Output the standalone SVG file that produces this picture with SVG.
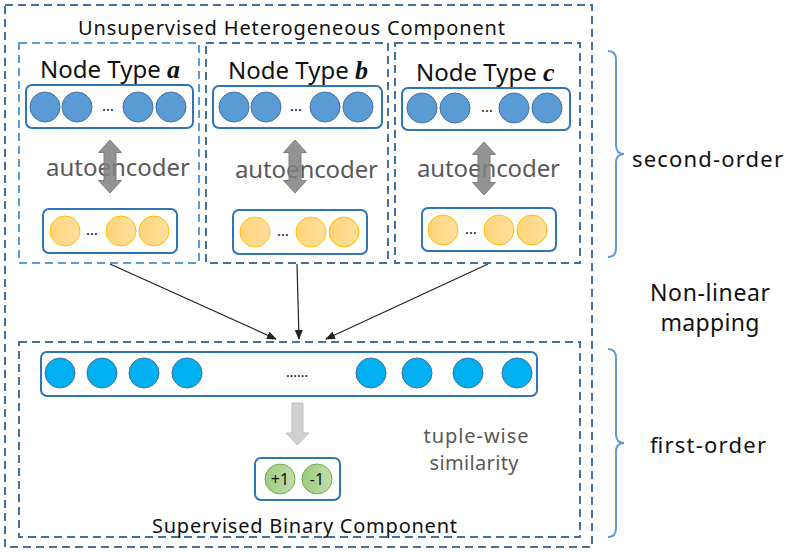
<svg xmlns="http://www.w3.org/2000/svg" width="791" height="553" viewBox="0 0 791 553">
<defs>
<style>
.dash{fill:none;stroke:#41719C;stroke-width:2;stroke-dasharray:8,5}
.dashl{fill:none;stroke:#5B9BD5;stroke-width:2;stroke-dasharray:8,5}
.rbox{fill:#fff;stroke:#2E75B6;stroke-width:2}
.bc{fill:#5B9BD5;stroke:#41719C;stroke-width:1}
.yc{fill:url(#yg);stroke:#FFC000;stroke-width:1}
.cc{fill:#00B0F0;stroke:#41719C;stroke-width:1}
.gc{fill:url(#gg);stroke:#70AD47;stroke-width:1}
.t{font-family:"Noto Sans","Open Sans",sans-serif;fill:#111}
.g{font-family:"Noto Sans","Open Sans",sans-serif;fill:#595959}
.it{font-family:"Liberation Serif",serif;font-style:italic;font-weight:bold}
.ae{fill:#808080;fill-opacity:0.85;stroke:#7F7F7F;stroke-width:1}
.br{fill:none;stroke:#5B9BD5;stroke-width:2}
.con{stroke:#222;stroke-width:1.2;fill:none;marker-end:url(#ah)}
</style>
<linearGradient id="yg" x1="0" y1="0" x2="1" y2="0"><stop offset="0" stop-color="#FFD47A"/><stop offset="1" stop-color="#FFDF9E"/></linearGradient>
<linearGradient id="gg" x1="0" y1="0" x2="1" y2="0"><stop offset="0" stop-color="#9DCB7F"/><stop offset="1" stop-color="#C1DEAD"/></linearGradient>
<marker id="ah" markerWidth="10" markerHeight="8" refX="9" refY="4" orient="auto" markerUnits="userSpaceOnUse"><path d="M0,0 L10,4 L0,8 Z" fill="#222"/></marker>
<path id="dbl" d="M0,-26.5 L11.5,-14 L6,-14 L6,14 L11.5,14 L0,26.5 L-11.5,14 L-6,14 L-6,-14 L-11.5,-14 Z"/>
</defs>
<rect width="791" height="553" fill="#fff"/>

<g id="outer">
<rect class="dash" x="5" y="5" width="587" height="542"/>
<text class="t" x="78" y="35" font-size="20" textLength="427">Unsupervised Heterogeneous Component</text>
</g>

<g id="typeA">
<rect class="dashl" x="19" y="43" width="180" height="220"/>
<text class="t" x="40" y="78" font-size="24">Node Type <tspan class="it" font-size="26">a</tspan></text>
<rect class="rbox" x="26" y="85" width="167" height="43" rx="6"/>
<circle class="bc" cx="45" cy="107" r="15"/><circle class="bc" cx="77" cy="107" r="15"/>
<text class="t" x="108" y="111" font-size="15" text-anchor="middle">…</text>
<circle class="bc" cx="138" cy="107" r="15"/><circle class="bc" cx="171" cy="107" r="15"/>
<text class="g" x="46" y="176" font-size="24" textLength="144">autoencoder</text>
<use href="#dbl" class="ae" x="110" y="166.5"/>
<rect class="rbox" x="43" y="209" width="134" height="44" rx="6"/>
<circle class="yc" cx="65" cy="231" r="15"/>
<text class="t" x="92" y="235" font-size="15" text-anchor="middle">…</text>
<circle class="yc" cx="121" cy="231" r="15"/><circle class="yc" cx="154" cy="231" r="15"/>
</g>

<g id="typeB">
<rect class="dash" x="206" y="43" width="182" height="220"/>
<text class="t" x="228" y="79" font-size="24">Node Type <tspan class="it" font-size="26">b</tspan></text>
<rect class="rbox" x="213" y="86" width="169" height="42" rx="6"/>
<circle class="bc" cx="234" cy="107" r="15"/><circle class="bc" cx="266" cy="107" r="15"/>
<text class="t" x="296" y="111" font-size="15" text-anchor="middle">…</text>
<circle class="bc" cx="325" cy="107" r="15"/><circle class="bc" cx="358" cy="107" r="15"/>
<text class="g" x="235" y="178" font-size="24" textLength="143">autoencoder</text>
<use href="#dbl" class="ae" x="295" y="166.5"/>
<rect class="rbox" x="233" y="210" width="134" height="44" rx="6"/>
<circle class="yc" cx="255" cy="232" r="15"/>
<text class="t" x="283" y="236" font-size="15" text-anchor="middle">…</text>
<circle class="yc" cx="311" cy="232" r="15"/><circle class="yc" cx="344" cy="232" r="15"/>
</g>

<g id="typeC">
<rect class="dash" x="395" y="43" width="185" height="220"/>
<text class="t" x="416" y="81" font-size="24">Node Type <tspan class="it" font-size="26">c</tspan></text>
<rect class="rbox" x="402" y="88" width="168" height="42" rx="6"/>
<circle class="bc" cx="422" cy="108" r="15"/><circle class="bc" cx="455" cy="108" r="15"/>
<text class="t" x="487" y="112" font-size="15" text-anchor="middle">…</text>
<circle class="bc" cx="514" cy="108" r="15"/><circle class="bc" cx="547" cy="108" r="15"/>
<text class="g" x="417" y="177" font-size="24" textLength="143">autoencoder</text>
<use href="#dbl" class="ae" x="484" y="168.5"/>
<rect class="rbox" x="422" y="208" width="134" height="43" rx="6"/>
<circle class="yc" cx="443" cy="230" r="15"/>
<text class="t" x="471" y="234" font-size="15" text-anchor="middle">…</text>
<circle class="yc" cx="499" cy="230" r="15"/><circle class="yc" cx="532" cy="230" r="15"/>
</g>

<g id="supervised">
<rect class="dash" x="19" y="342" width="561" height="195"/>
<rect class="rbox" x="41" y="352" width="496" height="44" rx="6"/>
<circle class="cc" cx="60" cy="373" r="15"/><circle class="cc" cx="102" cy="373" r="15"/>
<circle class="cc" cx="144" cy="373" r="15"/><circle class="cc" cx="187" cy="373" r="15"/>
<text class="t" x="297" y="377" font-size="14" text-anchor="middle">……</text>
<circle class="cc" cx="371" cy="373" r="15"/><circle class="cc" cx="417" cy="373" r="15"/>
<circle class="cc" cx="468" cy="373" r="15"/><circle class="cc" cx="517" cy="373" r="15"/>
<path d="M292,403 L303,403 L303,433 L309,433 L297.5,445 L286,433 L292,433 Z" fill="#D0D0D0" stroke="#BFBFBF" stroke-width="1"/>
<rect class="rbox" x="255" y="458" width="85" height="42" rx="6"/>
<circle class="gc" cx="280" cy="479" r="15"/><circle class="gc" cx="317" cy="479" r="15"/>
<text class="t" x="280" y="485" font-size="16" text-anchor="middle">+1</text>
<text class="t" x="317" y="485" font-size="16" text-anchor="middle">-1</text>
<text class="g" x="476" y="443" font-size="20" text-anchor="middle" textLength="105">tuple-wise</text>
<text class="g" x="474" y="470" font-size="20" text-anchor="middle" textLength="89">similarity</text>
<text class="t" x="152" y="533" font-size="20" textLength="305">Supervised Binary Component</text>
</g>

<g id="labels">
<path class="br" d="M608,51 Q616,51 616,60 L616,145 Q616,154 624,154 Q616,154 616,163 L616,248 Q616,257 608,257"/>
<text class="t" x="632" y="167" font-size="22" textLength="151">second-order</text>
<text class="t" x="710" y="301" font-size="23" text-anchor="middle" textLength="120">Non-linear</text>
<text class="t" x="710" y="331" font-size="23" text-anchor="middle" textLength="99">mapping</text>
<path class="br" d="M608,349 Q616,349 616,358 L616,434 Q616,443 624,443 Q616,443 616,452 L616,528 Q616,537 608,537"/>
<text class="t" x="650" y="453" font-size="22" textLength="116">first-order</text>
</g>

<g id="connectors">
<line class="con" x1="110" y1="264" x2="276" y2="339"/>
<line class="con" x1="297" y1="264" x2="299" y2="339"/>
<line class="con" x1="488" y1="264" x2="326" y2="339"/>
</g>
</svg>
